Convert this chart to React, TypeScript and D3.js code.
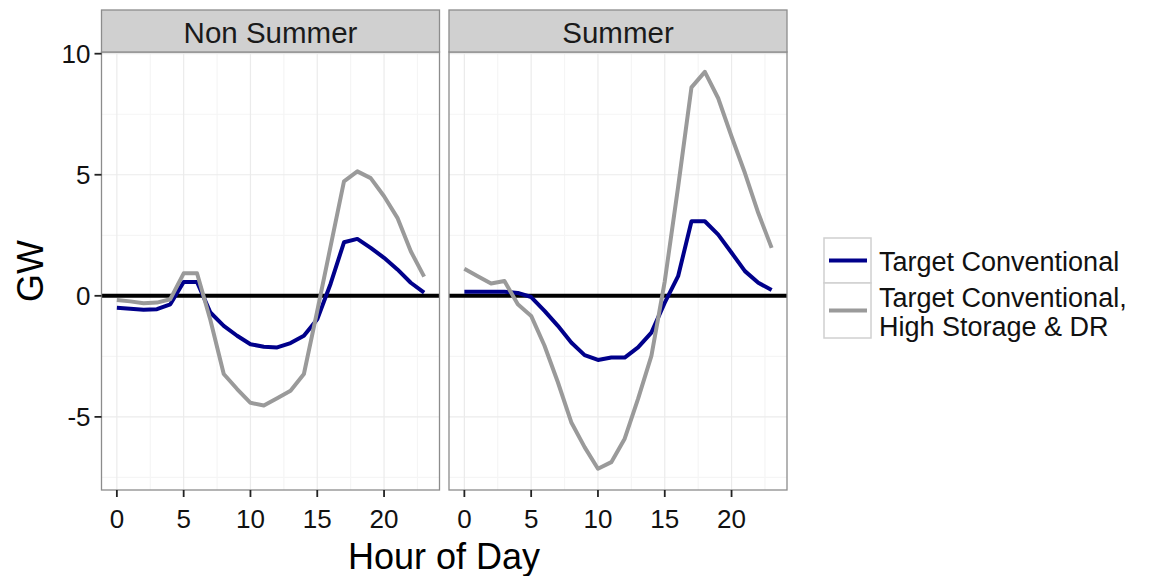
import React from "react";
import * as d3 from "d3";

const hours = [0, 1, 2, 3, 4, 5, 6, 7, 8, 9, 10, 11, 12, 13, 14, 15, 16, 17, 18, 19, 20, 21, 22, 23];
const panelNames = ["Non Summer", "Summer"];
const seriesNames = ["Target Conventional", "Target Conventional,\nHigh Storage & DR"];
const seriesColors = ["#00008b", "#9a9a9a"];

const nonSummerConventional = [-0.49, -0.53, -0.58, -0.55, -0.35, 0.57, 0.57, -0.69, -1.24, -1.65, -2.0, -2.1, -2.13, -1.95, -1.65, -0.97, 0.5, 2.21, 2.35, 1.98, 1.57, 1.09, 0.54, 0.13];
const nonSummerHighStorage = [-0.17, -0.23, -0.31, -0.28, -0.14, 0.93, 0.93, -1.0, -3.23, -3.85, -4.42, -4.53, -4.23, -3.92, -3.23, -0.62, 2.05, 4.73, 5.14, 4.86, 4.11, 3.22, 1.84, 0.79];
const summerConventional = [0.17, 0.17, 0.17, 0.17, 0.12, -0.05, -0.62, -1.24, -1.93, -2.45, -2.65, -2.55, -2.55, -2.13, -1.52, -0.28, 0.81, 3.08, 3.08, 2.53, 1.78, 1.02, 0.54, 0.24];
const summerHighStorage = [1.12, 0.81, 0.51, 0.61, -0.35, -0.83, -2.06, -3.57, -5.22, -6.25, -7.14, -6.87, -5.9, -4.26, -2.48, 0.6, 4.5, 8.61, 9.25, 8.16, 6.58, 5.07, 3.42, 1.98];

const xTicks = [0, 5, 10, 15, 20];
const xMinor = [2.5, 7.5, 12.5, 17.5, 22.5];
const yTicks = [-5, 0, 5, 10];
const yMinor = [-7.5, -2.5, 2.5, 7.5];

const FONT = "'Liberation Sans', Arial, Helvetica, sans-serif";

export default function App() {
  const W = 1158;
  const H = 576;
  const top = 52;
  const bottom = 490;
  const stripTop = 10;
  const panelX = [
    [101.5, 439.5],
    [449, 787],
  ];
  const y = d3.scaleLinear().domain([-8.02, 10.07]).range([bottom, top]);
  const panelData = [
    [nonSummerConventional, nonSummerHighStorage],
    [summerConventional, summerHighStorage],
  ];
  const borderColor = "#8c8c8c";

  return (
    <svg width={W} height={H} style={{ position: "absolute", left: 0, top: 0, background: "#fff" }} fontFamily={FONT}>
      <rect x={0} y={0} width={W} height={H} fill="#fff" />
      {panelNames.map((name, pi) => {
        const [x0, x1] = panelX[pi];
        const x = d3.scaleLinear().domain([-1.15, 24.15]).range([x0, x1]);
        const line = d3
          .line<number>()
          .x((_, i) => x(hours[i]))
          .y((d) => y(d));
        const cx = (x0 + x1) / 2;
        return (
          <g key={name}>
            <rect x={x0} y={top} width={x1 - x0} height={bottom - top} fill="#fff" />
            {xMinor.map((t) => (
              <line key={"xm" + t} x1={x(t)} x2={x(t)} y1={top} y2={bottom} stroke="#f5f5f5" strokeWidth={1.2} />
            ))}
            {yMinor.map((t) => (
              <line key={"ym" + t} x1={x0} x2={x1} y1={y(t)} y2={y(t)} stroke="#f5f5f5" strokeWidth={1.2} />
            ))}
            {xTicks.map((t) => (
              <line key={"xg" + t} x1={x(t)} x2={x(t)} y1={top} y2={bottom} stroke="#ebebeb" strokeWidth={1.2} />
            ))}
            {yTicks.map((t) => (
              <line key={"yg" + t} x1={x0} x2={x1} y1={y(t)} y2={y(t)} stroke="#ebebeb" strokeWidth={1.2} />
            ))}
            <line x1={x0} x2={x1} y1={y(0)} y2={y(0)} stroke="#000" strokeWidth={4} />
            <path d={line(panelData[pi][0]) || ""} fill="none" stroke={seriesColors[0]} strokeWidth={4} strokeLinejoin="round" />
            <path d={line(panelData[pi][1]) || ""} fill="none" stroke={seriesColors[1]} strokeWidth={4} strokeLinejoin="round" />
            <rect x={x0} y={top} width={x1 - x0} height={bottom - top} fill="none" stroke={borderColor} strokeWidth={1.3} />
            <rect x={x0} y={stripTop} width={x1 - x0} height={top - stripTop} fill="#d0d0d0" stroke={borderColor} strokeWidth={1.3} />
            <text x={cx} y={(stripTop + top) / 2 + 1} textAnchor="middle" dominantBaseline="central" fontSize={29.5} fill="#1a1a1a">
              {name}
            </text>
            {xTicks.map((t) => (
              <g key={"xt" + t}>
                <line x1={x(t)} x2={x(t)} y1={bottom} y2={bottom + 7} stroke="#222" strokeWidth={1.8} />
                <text x={x(t)} y={bottom + 29} textAnchor="middle" dominantBaseline="central" fontSize={26} fill="#111">
                  {t}
                </text>
              </g>
            ))}
          </g>
        );
      })}
      {yTicks.map((t) => (
        <g key={"yt" + t}>
          <line x1={panelX[0][0] - 7} x2={panelX[0][0]} y1={y(t)} y2={y(t)} stroke="#222" strokeWidth={1.8} />
          <text x={panelX[0][0] - 11} y={y(t)} textAnchor="end" dominantBaseline="central" fontSize={26} fill="#111">
            {t}
          </text>
        </g>
      ))}
      <text x={444} y={556} textAnchor="middle" dominantBaseline="central" fontSize={36} fill="#000">
        Hour of Day
      </text>
      <text transform={`translate(30, ${(top + bottom) / 2}) rotate(-90)`} textAnchor="middle" dominantBaseline="central" fontSize={36} fill="#000">
        GW
      </text>
      <g>
        <rect x={824} y={238} width={47} height={45} fill="#fff" stroke="#d0d0d0" strokeWidth={1.5} />
        <rect x={824} y={283} width={47} height={55} fill="#fff" stroke="#d0d0d0" strokeWidth={1.5} />
        <line x1={829} x2={867} y1={260.5} y2={260.5} stroke={seriesColors[0]} strokeWidth={4} />
        <line x1={829} x2={867} y1={310.5} y2={310.5} stroke={seriesColors[1]} strokeWidth={4} />
        <text x={879} y={262} dominantBaseline="central" fontSize={27} fill="#111">
          {seriesNames[0]}
        </text>
        {seriesNames[1].split("\n").map((s, i) => (
          <text key={s} x={879} y={298 + i * 29} dominantBaseline="central" fontSize={27} fill="#111">
            {s}
          </text>
        ))}
      </g>
    </svg>
  );
}
